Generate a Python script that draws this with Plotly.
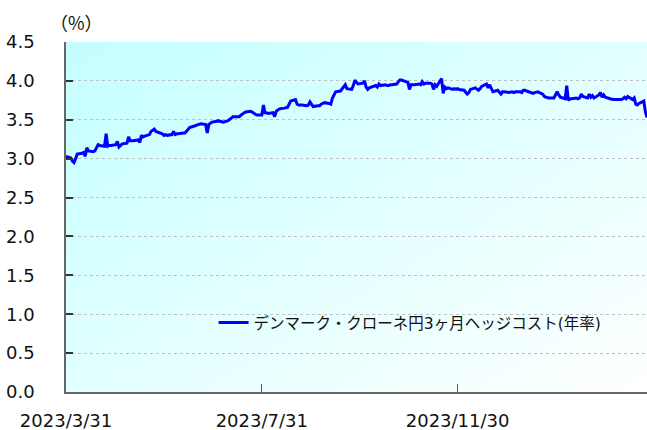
import base64
import pandas as pd
import plotly.graph_objects as go

# ---- data (business days from 2023-03-31) ----
start_date = "2023-03-31"
hedge_cost = [
    3.03, 3.01, 2.97, 2.95, 3.00,
    3.06, 3.07, 3.08, 3.03, 3.14,
    3.10, 3.09, 3.10, 3.14, 3.18,
    3.17, 3.16, 3.32, 3.16, 3.17,
    3.17, 3.18, 3.22, 3.15, 3.17,
    3.19, 3.20, 3.28, 3.23, 3.23,
    3.23, 3.24, 3.21, 3.30, 3.28,
    3.29, 3.31, 3.35, 3.37, 3.38,
    3.35, 3.33, 3.32, 3.30, 3.31,
    3.30, 3.31, 3.35, 3.31, 3.32,
    3.32, 3.33, 3.33, 3.35, 3.38,
    3.40, 3.42, 3.43, 3.44, 3.45,
    3.45, 3.44, 3.33, 3.44, 3.46,
    3.47, 3.48, 3.49, 3.48, 3.47,
    3.47, 3.49, 3.50, 3.52, 3.54,
    3.54, 3.54, 3.56, 3.58, 3.59,
    3.60, 3.61, 3.60, 3.58, 3.57,
    3.56, 3.56, 3.69, 3.59, 3.59,
    3.58, 3.59, 3.54, 3.61, 3.62,
    3.64, 3.65, 3.66, 3.66, 3.70,
    3.74, 3.76, 3.70, 3.69, 3.69,
    3.69, 3.68, 3.69, 3.73, 3.69,
    3.67, 3.68, 3.68, 3.70, 3.71,
    3.72, 3.71, 3.70, 3.78, 3.83,
    3.86, 3.87, 3.90, 3.93, 3.95,
    3.90, 3.89, 3.94, 4.01, 3.98,
    3.96, 3.97, 4.00, 3.92, 3.89,
    3.91, 3.93, 3.94, 3.92, 3.96,
    3.94, 3.95, 3.94, 3.94, 3.95,
    3.95, 3.96, 3.98, 4.01, 4.01,
    4.00, 3.98, 3.89, 3.95, 3.95,
    3.95, 3.96, 3.95, 3.99, 3.96,
    3.97, 3.97, 3.96, 3.89, 3.95,
    3.93, 4.03, 3.84, 3.92, 3.90,
    3.91, 3.89, 3.90, 3.89, 3.90,
    3.89, 3.88, 3.86, 3.83, 3.85,
    3.89, 3.91, 3.89, 3.88, 3.90,
    3.93, 3.96, 3.91, 3.95, 3.89,
    3.86, 3.88, 3.86, 3.83, 3.86,
    3.86, 3.85, 3.86, 3.86, 3.85,
    3.86, 3.86, 3.85, 3.88, 3.88,
    3.87, 3.85, 3.84, 3.85, 3.86,
    3.86, 3.83, 3.80, 3.79, 3.78,
    3.78, 3.78, 3.83, 3.86, 3.82,
    3.79, 3.77, 3.94, 3.75, 3.77,
    3.77, 3.78, 3.77, 3.78, 3.83,
    3.80, 3.78, 3.83, 3.79, 3.81,
    3.78, 3.82, 3.85, 3.79, 3.82,
    3.79, 3.77, 3.76, 3.76, 3.76,
    3.76, 3.76, 3.77, 3.79, 3.77,
    3.80, 3.76, 3.78, 3.70, 3.69,
    3.71, 3.74, 3.60, 3.53,
]
dates = pd.bdate_range(start=start_date, periods=len(hedge_cost))

x_tick_vals = ["2023-03-31", "2023-07-31", "2023-11-30"]
x_tick_text = ["2023/3/31", "2023/7/31", "2023/11/30"]
y_tick_vals = [0.0, 0.5, 1.0, 1.5, 2.0, 2.5, 3.0, 3.5, 4.0, 4.5]
y_tick_text = ["0.0", "0.5", "1.0", "1.5", "2.0", "2.5", "3.0", "3.5", "4.0", "4.5"]
series_name = "デンマーク・クローネ円3ヶ月ヘッジコスト(年率)"
unit_label = "（%）"

FONT = "DejaVu Sans, Noto Sans CJK JP"
CJK_FONT = "Noto Sans CJK JP"

# gradient background (style only)
svg = (
    '<svg xmlns="http://www.w3.org/2000/svg" width="600" height="360" preserveAspectRatio="none">'
    '<defs><linearGradient id="g" x1="0" y1="0" x2="1" y2="1">'
    '<stop offset="0" stop-color="#c4fdfd"/>'
    '<stop offset="0.15" stop-color="#ccffff"/>'
    '<stop offset="0.6" stop-color="#e8ffff"/>'
    '<stop offset="1" stop-color="#ffffff"/>'
    '</linearGradient></defs>'
    '<rect width="600" height="360" fill="url(#g)"/></svg>'
)
bg_src = "data:image/svg+xml;base64," + base64.b64encode(svg.encode()).decode()

fig = go.Figure()
fig.add_trace(go.Scatter(
    x=dates, y=hedge_cost, mode="lines", name=series_name,
    line=dict(color="#0000ff", width=3),
    showlegend=True,
))

fig.update_layout(
    width=647, height=430,
    margin=dict(l=66, r=0, t=42, b=38),
    paper_bgcolor="white",
    plot_bgcolor="white",
    font=dict(family=FONT, size=18, color="#111111"),
    images=[dict(source=bg_src, xref="paper", yref="paper", x=0, y=1,
                 sizex=1, sizey=1, sizing="stretch", layer="below",
                 xanchor="left", yanchor="top")],
    legend=dict(
        x=0.254, y=0.197, xanchor="left", yanchor="middle",
        bgcolor="rgba(0,0,0,0)", font=dict(family=FONT, size=15.5, color="#111111"),
        itemwidth=30, borderwidth=0,
    ),
    annotations=[dict(
        text=unit_label, xref="paper", yref="paper", x=0.018, y=1.058,
        xanchor="center", yanchor="middle", showarrow=False,
        font=dict(family=CJK_FONT, size=18, color="#111111"),
    )],
)

fig.update_xaxes(
    type="date",
    range=[dates[0], dates[-1]],
    tickvals=x_tick_vals, ticktext=x_tick_text,
    ticks="inside", ticklen=8, tickwidth=1, tickcolor="#555555",
    showline=True, linecolor="#666666", linewidth=2,
    showgrid=False, zeroline=False,
    tickfont=dict(family=FONT, size=18),
    ticklabelstandoff=11,
)
fig.update_yaxes(
    range=[0, 4.5],
    tickvals=y_tick_vals, ticktext=y_tick_text,
    ticks="inside", ticklen=7, tickwidth=1.5, tickcolor="#333333",
    showline=True, linecolor="#666666", linewidth=1.5,
    showgrid=True, gridcolor="#c0c0c0", gridwidth=1, griddash="3px,3px",
    zeroline=False,
    tickfont=dict(family=FONT, size=18),
    ticklabelstandoff=26,
)

fig.write_html(
    "out.html",
    config={"displayModeBar": False},
    post_script="document.body.style.margin='0';document.body.style.overflow='hidden';",
)
